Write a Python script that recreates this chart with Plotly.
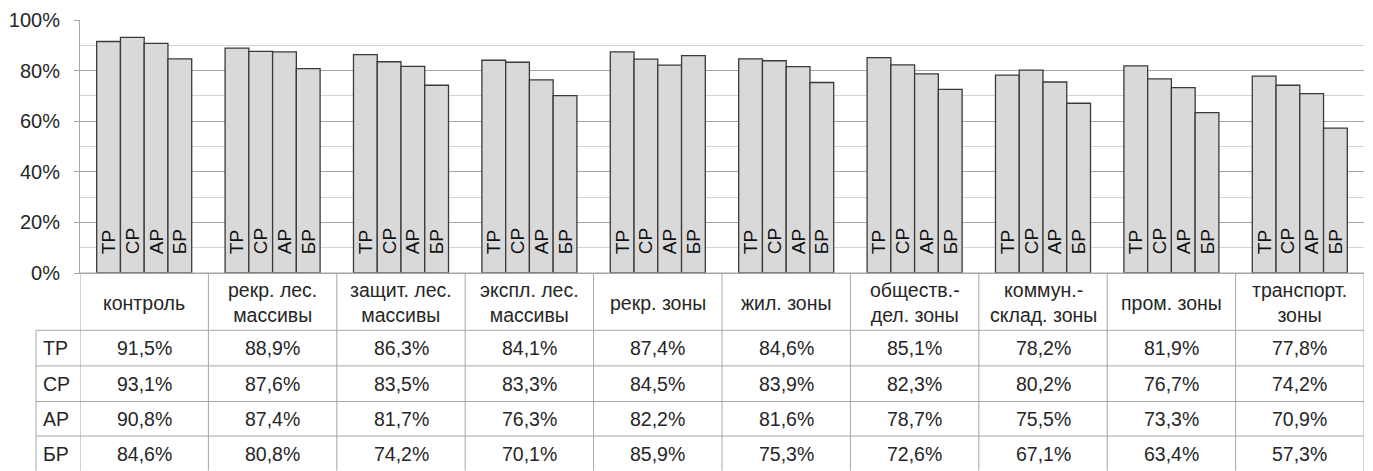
import plotly.graph_objects as go

# Categories (zones) and series
categories = [
    "контроль",
    "рекр. лес.<br>массивы",
    "защит. лес.<br>массивы",
    "экспл. лес.<br>массивы",
    "рекр. зоны",
    "жил. зоны",
    "обществ.-<br>дел. зоны",
    "коммун.-<br>склад. зоны",
    "пром. зоны",
    "транспорт.<br>зоны",
]
series_names = ["ТР", "СР", "АР", "БР"]

tr_values = [91.5, 88.9, 86.3, 84.1, 87.4, 84.6, 85.1, 78.2, 81.9, 77.8]
sr_values = [93.1, 87.6, 83.5, 83.3, 84.5, 83.9, 82.3, 80.2, 76.7, 74.2]
ar_values = [90.8, 87.4, 81.7, 76.3, 82.2, 81.6, 78.7, 75.5, 73.3, 70.9]
br_values = [84.6, 80.8, 74.2, 70.1, 85.9, 75.3, 72.6, 67.1, 63.4, 57.3]

y_tick_values = [0, 0.2, 0.4, 0.6, 0.8, 1.0]
y_tick_labels = ["0%", "20%", "40%", "60%", "80%", "100%"]

all_series = [tr_values, sr_values, ar_values, br_values]

FONT = "Liberation Sans, Arial, sans-serif"
TEXT_COLOR = "#262626"
LINE_COLOR = "#a6a6a6"
TABLE_FONT_SIZE = 19.5

# Figure geometry (pixels)
W, H = 1373, 471
ML, MR, MT, MB = 80, 9, 17, 198
plot_h = H - MT - MB
plot_w = W - ML - MR


def py(ypx):
    """Convert a pixel row in the page to a paper y coordinate."""
    return (H - MB - ypx) / plot_h


def px(xpx):
    """Convert a pixel column in the page to a paper x coordinate."""
    return (xpx - ML) / plot_w


fig = go.Figure()
x_idx = list(range(len(categories)))
for name, vals in zip(series_names, all_series):
    fig.add_trace(go.Bar(
        x=x_idx,
        y=[v / 100 for v in vals],
        name=name,
        text=["\u00a0\u00a0\u00a0" + name] * len(vals),
        textposition="inside",
        insidetextanchor="start",
        textangle=-90,
        insidetextfont=dict(family=FONT, size=19, color="#111111"),
        marker=dict(color="#d9d9d9", line=dict(color="#3a3a3a", width=1.3)),
        hoverinfo="skip",
        cliponaxis=False,
    ))

shapes = []
annotations = []

# Table geometry
header_top = H - MB
header_bot = 331
row_lines = [331, 367, 403, 438]
row_h = 36
label_left = 36

# horizontal lines
shapes.append(dict(type="line", xref="paper", yref="paper",
                   x0=0, x1=1, y0=py(header_top), y1=py(header_top),
                   line=dict(color=LINE_COLOR, width=1)))
for yl in row_lines:
    shapes.append(dict(type="line", xref="paper", yref="paper",
                       x0=px(label_left), x1=1, y0=py(yl), y1=py(yl),
                       line=dict(color=LINE_COLOR, width=1)))
# vertical lines: category separators
for k in range(len(categories) + 1):
    shapes.append(dict(type="line", xref="x", yref="paper",
                       x0=k - 0.5, x1=k - 0.5, y0=py(header_top), y1=py(H + 2),
                       line=dict(color=LINE_COLOR, width=1)))
# left edge of row label column
shapes.append(dict(type="line", xref="paper", yref="paper",
                   x0=px(label_left), x1=px(label_left), y0=py(header_bot), y1=py(H + 2),
                   line=dict(color=LINE_COLOR, width=1)))

# header texts
for i, cat in enumerate(categories):
    annotations.append(dict(
        x=i, y=py((header_top + header_bot) / 2 + 1), xref="x", yref="paper",
        text=cat, showarrow=False, align="center",
        font=dict(family=FONT, size=TABLE_FONT_SIZE, color=TEXT_COLOR),
        xanchor="center", yanchor="middle",
    ))

# data rows
for r, (name, vals) in enumerate(zip(series_names, all_series)):
    yc = row_lines[r] + row_h / 2
    annotations.append(dict(
        x=px(label_left + 5), y=py(yc), xref="paper", yref="paper",
        text=name, showarrow=False, xanchor="left", yanchor="middle",
        font=dict(family=FONT, size=TABLE_FONT_SIZE, color=TEXT_COLOR),
    ))
    for i, v in enumerate(vals):
        annotations.append(dict(
            x=i, y=py(yc), xref="x", yref="paper",
            text=f"{v:.1f}%".replace(".", ","), showarrow=False,
            xanchor="center", yanchor="middle",
            font=dict(family=FONT, size=TABLE_FONT_SIZE, color=TEXT_COLOR),
        ))

fig.update_layout(
    width=W, height=H, autosize=False,
    margin=dict(l=ML, r=MR, t=MT, b=MB, pad=0),
    paper_bgcolor="white", plot_bgcolor="white",
    barmode="group", bargap=0.26, bargroupgap=0,
    showlegend=False,
    uniformtext=dict(minsize=19, mode="show"),
    shapes=shapes, annotations=annotations,
    font=dict(family=FONT, color=TEXT_COLOR),
    xaxis=dict(range=[-0.5, len(categories) - 0.5], showticklabels=False,
               showgrid=False, zeroline=False, showline=True,
               linecolor=LINE_COLOR, linewidth=1, ticks=""),
    yaxis=dict(range=[0, 1], tickvals=y_tick_values, ticktext=y_tick_labels,
               showgrid=True, gridcolor="#a6a6a6", gridwidth=1,
               zeroline=False, showline=True, linecolor=LINE_COLOR, linewidth=1,
               ticks="outside", ticklen=5, tickcolor=LINE_COLOR,
               ticklabelstandoff=10,
               tickfont=dict(family=FONT, size=20, color=TEXT_COLOR),
               minor=dict(dtick=0.1, showgrid=True, gridcolor="#d4d4d4",
                          gridwidth=1, ticks="")),
)

fig.write_html("out.html")
